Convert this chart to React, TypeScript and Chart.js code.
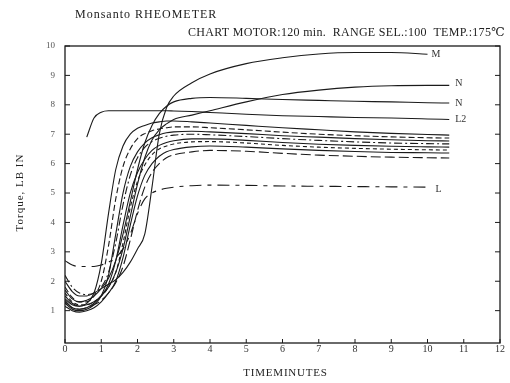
import React, { useEffect, useRef } from "react";
import { Chart, registerables } from "chart.js";

Chart.register(...registerables);

// Cure time grid (minutes)
const minutes = [0, 0.2, 0.4, 0.6, 0.8, 1.0, 1.2, 1.4, 1.6, 1.8, 2.0, 2.2, 2.4, 2.6, 2.8, 3.0, 3.5, 4, 5, 6, 7, 8, 9, 10, 10.6];

// Torque readings for each compound
const curveM = [2.0, 1.65, 1.5, 1.5, 1.6, 1.75, 1.9, 2.05, 2.3, 2.65, 3.1, 3.6, 5.2, 7.0, 7.9, 8.3, 8.75, 9.05, 9.4, 9.6, 9.73, 9.78, 9.78, 9.72, null];
const curveN = [1.4, 1.2, 1.15, 1.2, 1.3, 1.5, 1.8, 2.3, 3.1, 4.2, 5.3, 6.2, 6.8, 7.15, 7.35, 7.5, 7.65, 7.8, 8.1, 8.35, 8.5, 8.6, 8.65, 8.66, 8.66];
const curveN2 = [1.7, 1.4, 1.3, 1.35, 1.5, 1.75, 2.1, 2.7, 3.6, 4.7, 5.8, 6.7, 7.3, 7.7, 7.95, 8.1, 8.22, 8.25, 8.22, 8.18, 8.15, 8.12, 8.1, 8.07, 8.06];
const curveL2 = [null, null, null, 6.9, 7.55, 7.75, 7.8, 7.8, 7.8, 7.8, 7.8, 7.8, 7.8, 7.8, 7.8, 7.79, 7.77, 7.74, 7.68, 7.63, 7.6, 7.57, 7.55, 7.52, 7.5];
const curveC1 = [1.5, 1.25, 1.15, 1.25, 1.6, 2.6, 4.3, 5.8, 6.6, 7.0, 7.2, 7.3, 7.38, 7.42, 7.45, 7.45, 7.42, 7.38, 7.3, 7.22, 7.15, 7.08, 7.03, 6.99, 6.97];
const curveC2 = [1.8, 1.45, 1.3, 1.3, 1.5, 2.0, 3.2, 4.8, 5.9, 6.5, 6.85, 7.02, 7.12, 7.18, 7.22, 7.25, 7.25, 7.22, 7.15, 7.07, 7.0, 6.95, 6.91, 6.88, 6.87];
const curveC3 = [1.25, 1.05, 1.0, 1.05, 1.2, 1.5, 2.2, 3.6, 5.0, 5.9, 6.4, 6.7, 6.88, 6.98, 7.05, 7.08, 7.1, 7.08, 7.02, 6.95, 6.9, 6.85, 6.81, 6.78, 6.77];
const curveC4 = [2.2, 1.8, 1.6, 1.55, 1.6, 1.8, 2.3, 3.3, 4.6, 5.6, 6.2, 6.55, 6.75, 6.86, 6.93, 6.97, 7.0, 6.98, 6.92, 6.85, 6.79, 6.74, 6.7, 6.68, 6.67];
const curveC5 = [1.35, 1.1, 1.05, 1.1, 1.25, 1.5, 1.9, 2.7, 3.9, 5.0, 5.7, 6.15, 6.45, 6.62, 6.72, 6.78, 6.84, 6.84, 6.79, 6.72, 6.66, 6.62, 6.59, 6.57, 6.56];
const curveC6 = [1.6, 1.3, 1.2, 1.2, 1.3, 1.5, 1.8, 2.3, 3.3, 4.5, 5.4, 5.95, 6.3, 6.5, 6.6, 6.67, 6.74, 6.75, 6.7, 6.62, 6.56, 6.52, 6.49, 6.47, 6.46];
const curveC7 = [1.15, 1.0, 0.95, 1.0, 1.1, 1.3, 1.6, 2.0, 2.8, 3.9, 4.9, 5.6, 6.0, 6.25, 6.4, 6.48, 6.57, 6.6, 6.56, 6.5, 6.45, 6.41, 6.38, 6.37, 6.36];
const curveC8 = [1.3, 1.1, 1.05, 1.1, 1.2, 1.35, 1.6, 1.95, 2.5, 3.4, 4.4, 5.2, 5.7, 6.0, 6.2, 6.3, 6.4, 6.45, 6.42, 6.35, 6.29, 6.25, 6.22, 6.2, 6.19];
const curveL = [2.7, 2.55, 2.5, 2.5, 2.5, 2.55, 2.65, 2.8, 3.1, 3.6, 4.3, 4.8, 5.0, 5.1, 5.16, 5.2, 5.25, 5.27, 5.26, 5.24, 5.23, 5.22, 5.21, 5.2, null];

const seriesNames = ["M", "N", "N2", "L2", "C1", "C2", "C3", "C4", "C5", "C6", "C7", "C8", "L"];
const seriesValues = [curveM, curveN, curveN2, curveL2, curveC1, curveC2, curveC3, curveC4, curveC5, curveC6, curveC7, curveC8, curveL];
const seriesDashes: number[][] = [[], [], [], [], [], [6, 3], [], [8, 3, 2, 3], [], [4, 3], [], [10, 4], [12, 6, 4, 6]];

// Tick values
const xTickValues = [0, 1, 2, 3, 4, 5, 6, 7, 8, 9, 10, 11, 12];
const yTickValues = [1, 2, 3, 4, 5, 6, 7, 8, 9, 10];

// Curve end labels
const endLabels = [
  { series: "M", text: "M", dx: 4, dy: 0 },
  { series: "N", text: "N", dx: 6, dy: -2 },
  { series: "N2", text: "N", dx: 6, dy: 0 },
  { series: "L2", text: "L2", dx: 6, dy: 0 },
  { series: "L", text: "L", dx: 8, dy: 2 },
];

const SERIF = "'Liberation Serif', 'DejaVu Serif', serif";
const INK = "#1b1b1b";

const decorPlugin = {
  id: "rheometerDecor",
  afterDatasetsDraw(chart: any) {
    const { ctx, chartArea: a, scales } = chart;
    const xs = scales.x;
    const ys = scales.y;
    ctx.save();
    // frame
    ctx.strokeStyle = INK;
    ctx.lineWidth = 1.3;
    ctx.strokeRect(a.left, a.top, a.right - a.left, a.bottom - a.top);
    // inward ticks
    ctx.lineWidth = 1;
    ctx.beginPath();
    for (const v of xTickValues) {
      const px = xs.getPixelForValue(v);
      ctx.moveTo(px, a.bottom);
      ctx.lineTo(px, a.bottom - 4);
    }
    for (const v of yTickValues) {
      const py = ys.getPixelForValue(v);
      ctx.moveTo(a.left, py);
      ctx.lineTo(a.left + 5, py);
      ctx.moveTo(a.right, py);
      ctx.lineTo(a.right - 5, py);
    }
    ctx.stroke();

    // end labels
    ctx.fillStyle = "#333";
    ctx.font = `10px ${SERIF}`;
    ctx.textBaseline = "middle";
    ctx.textAlign = "left";
    for (const lab of endLabels) {
      const idx = seriesNames.indexOf(lab.series);
      const vals = seriesValues[idx];
      let last = vals.length - 1;
      while (last > 0 && vals[last] == null) last--;
      const px = xs.getPixelForValue(minutes[last]);
      const py = ys.getPixelForValue(vals[last] as number);
      ctx.fillText(lab.text, px + lab.dx, py + lab.dy);
    }

    // headings
    ctx.fillStyle = "#222";
    ctx.font = `12px ${SERIF}`;
    ctx.textBaseline = "middle";
    (ctx as any).letterSpacing = "1px";
    ctx.fillText("Monsanto RHEOMETER", 75, 15);
    (ctx as any).letterSpacing = "0.3px";
    ctx.fillText("CHART MOTOR:120 min.  RANGE SEL.:100  TEMP.:175℃", 188, 33);

    // axis titles
    ctx.font = `11px ${SERIF}`;
    ctx.textAlign = "center";
    (ctx as any).letterSpacing = "0.8px";
    ctx.fillText("TIMEMINUTES", (a.left + a.right) / 2 + 3, 373);
    ctx.translate(20, (a.top + a.bottom) / 2 - 2);
    ctx.rotate(-Math.PI / 2);
    (ctx as any).letterSpacing = "1px";
    ctx.fillText("Torque, LB IN", 0, 0);
    ctx.restore();
  },
};

export default function App() {
  const ref = useRef<HTMLCanvasElement | null>(null);

  useEffect(() => {
    if (!ref.current) return;
    const datasets = seriesValues.map((vals, i) => ({
      label: seriesNames[i],
      data: minutes.map((t, j) => ({ x: t, y: vals[j] })),
      borderColor: INK,
      borderWidth: 1.1,
      borderDash: seriesDashes[i],
      pointRadius: 0,
      fill: false,
      spanGaps: false,
      cubicInterpolationMode: "monotone" as const,
    }));

    const chart = new Chart(ref.current, {
      type: "line",
      data: { datasets },
      options: {
        animation: false,
        responsive: false,
        maintainAspectRatio: false,
        layout: { padding: { top: 46, right: 10, left: 0, bottom: 0 } },
        plugins: {
          legend: { display: false },
          tooltip: { enabled: false },
        },
        scales: {
          x: {
            type: "linear",
            min: 0,
            max: 12,
            afterBuildTicks: (s: any) => {
              s.ticks = xTickValues.map((v) => ({ value: v }));
            },
            afterFit: (s: any) => {
              s.height = 40;
            },
            grid: { display: false, drawTicks: false },
            border: { display: false },
            ticks: {
              padding: 0,
              color: "#333",
              font: { family: SERIF, size: 10 },
              maxRotation: 0,
              autoSkip: false,
            },
          },
          y: {
            type: "linear",
            min: -0.1,
            max: 10,
            afterBuildTicks: (s: any) => {
              s.ticks = yTickValues.map((v) => ({ value: v }));
            },
            afterFit: (s: any) => {
              s.width = 65;
            },
            grid: { display: false, drawTicks: false },
            border: { display: false },
            ticks: {
              padding: 10,
              color: "#555",
              font: { family: SERIF, size: 9 },
              autoSkip: false,
            },
          },
        },
      },
      plugins: [decorPlugin],
    });
    return () => chart.destroy();
  }, []);

  return (
    <div style={{ position: "fixed", left: 0, top: 0, width: 510, height: 383, background: "#fff" }}>
      <canvas ref={ref} width={510} height={383} style={{ width: 510, height: 383, display: "block" }} />
    </div>
  );
}
